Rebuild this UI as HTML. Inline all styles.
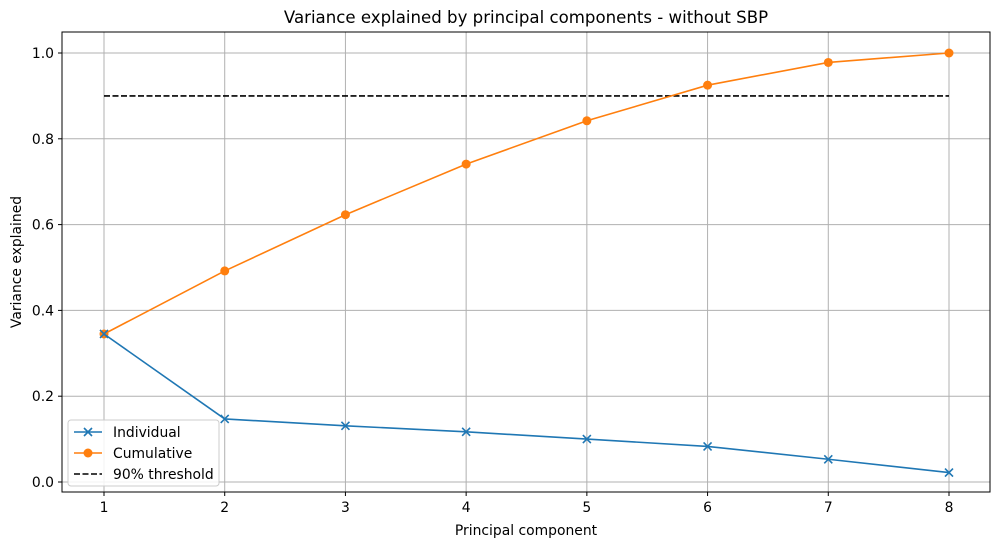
<!DOCTYPE html>
<html><head><meta charset="utf-8"><style>
body{margin:0;background:#fff;font-family:"Liberation Sans","DejaVu Sans",sans-serif;}
svg text{font-family:"DejaVu Sans","Liberation Sans",sans-serif;}
</style></head><body>
<svg id="c" width="1001" height="547" xmlns="http://www.w3.org/2000/svg"></svg>
<script>
const categories=[1,2,3,4,5,6,7,8];
const individual=[0.345,0.147,0.131,0.117,0.100,0.083,0.053,0.022];
const cumulative=[0.345,0.492,0.623,0.741,0.842,0.925,0.978,1.0];
const threshold=[0.9];
const yTicks=[0.0,0.2,0.4,0.6,0.8,1.0];
const yTickLabels=["0.0","0.2","0.4","0.6","0.8","1.0"];
const NS="http://www.w3.org/2000/svg";
const svg=document.getElementById('c');
const L=62,R=990,T=32,B=492;
const FS=13.9;
const xs=v=>104+(v-1)*(949-104)/7;
const ys=v=>482-v*(482-53);
function el(t,a,p){const e=document.createElementNS(NS,t);for(const k in a)e.setAttribute(k,a[k]);(p||svg).appendChild(e);return e;}
categories.forEach(c=>{const g=el('line',{x1:xs(c),x2:xs(c),y1:T,y2:B,stroke:'#b0b0b0','stroke-width':1});


const t=el('text',{x:xs(c),y:B+20,'text-anchor':'middle','font-size':FS,fill:'#000'});t.textContent=c;


el('line',{x1:xs(c),x2:xs(c),y1:B,y2:B+4,stroke:'#000'});});
yTicks.forEach((v,i)=>{const g=el('line',{x1:L,x2:R,y1:ys(v),y2:ys(v),stroke:'#b0b0b0','stroke-width':1});


const t=el('text',{x:L-8,y:ys(v)+5,'text-anchor':'end','font-size':FS,fill:'#000'});t.textContent=yTickLabels[i];


el('line',{x1:L-4,x2:L,y1:ys(v),y2:ys(v),stroke:'#000'});});
const th=el('line',{x1:xs(categories[0]),x2:xs(categories[categories.length-1]),y1:ys(threshold[0]),y2:ys(threshold[0]),stroke:'#000','stroke-width':1.6,'stroke-dasharray':'6,2.5'});


const cp=el('polyline',{points:categories.map((c,i)=>xs(c)+','+ys(cumulative[i])).join(' '),fill:'none',stroke:'#ff7f0e','stroke-width':1.6});


categories.forEach((c,i)=>{const m=el('circle',{cx:xs(c),cy:ys(cumulative[i]),r:4.5,fill:'#ff7f0e'});

});
const ip=el('polyline',{points:categories.map((c,i)=>xs(c)+','+ys(individual[i])).join(' '),fill:'none',stroke:'#1f77b4','stroke-width':1.6});


categories.forEach((c,i)=>{const x=xs(c),y=ys(individual[i]);const m=el('path',{d:`M${x-4},${y-4}L${x+4},${y+4}M${x-4},${y+4}L${x+4},${y-4}`,stroke:'#1f77b4','stroke-width':1.6});

});
el('rect',{x:L,y:T,width:R-L,height:B-T,fill:'none',stroke:'#000','stroke-width':1});
let t=el('text',{x:(L+R)/2,y:23,'text-anchor':'middle','font-size':16.6});t.textContent='Variance explained by principal components - without SBP';

t=el('text',{x:(L+R)/2,y:535,'text-anchor':'middle','font-size':FS});t.textContent='Principal component';

t=el('text',{x:21,y:(T+B)/2,'text-anchor':'middle','font-size':FS,transform:`rotate(-90 21 ${(T+B)/2})`});t.textContent='Variance explained';

const lg=el('g',{});


el('rect',{x:68,y:420,width:151,height:66,rx:3,fill:'#fff','fill-opacity':0.85,stroke:'#ccc'},lg);
const items=[['Individual','#1f77b4','x'],['Cumulative','#ff7f0e','o'],['90% threshold','#000','d']];
items.forEach((it,i)=>{const y=432+i*21;
el('line',{x1:74,x2:102,y1:y,y2:y,stroke:it[1],'stroke-width':1.6,'stroke-dasharray':it[2]=='d'?'6,2.5':'none'},lg);
if(it[2]=='x')el('path',{d:`M84,${y-4}L92,${y+4}M84,${y+4}L92,${y-4}`,stroke:it[1],'stroke-width':1.6},lg);
if(it[2]=='o')el('circle',{cx:88,cy:y,r:4.5,fill:it[1]},lg);
const tx=el('text',{x:113,y:y+5,'font-size':FS},lg);tx.textContent=it[0];

});
</script>
</body></html>
